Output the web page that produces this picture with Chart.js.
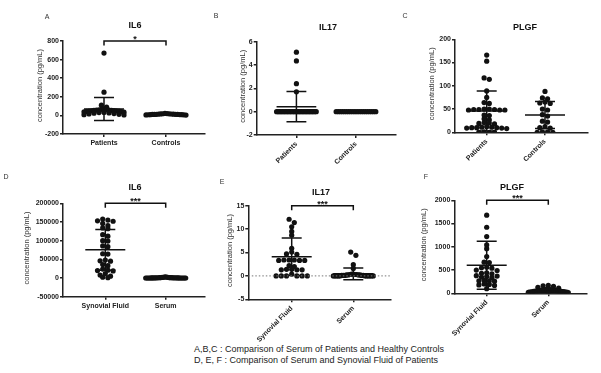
<!DOCTYPE html>
<html>
<head>
<meta charset="utf-8">
<script src="https://cdn.jsdelivr.net/npm/chart.js@4.4.1/dist/chart.umd.min.js"></script>
<style>
  html, body { margin: 0; padding: 0; background: #fff; }
  #wrap { position: relative; width: 601px; height: 373px; overflow: hidden; }
  #wrap canvas { position: absolute; }
  #note { position: absolute; left: 194px; top: 344px; font: 9px "Liberation Sans", Arial, sans-serif; line-height: 10.5px; color: #222; white-space: nowrap; }
</style>
</head>
<body>
<div id="wrap">
  <div id="note">A,B,C : Comparison of Serum of Patients and Healthy Controls<br>D, E, F : Comparison of Serum and Synovial Fluid of Patients</div>
</div>
<script>
Chart.defaults.font.family = '"Liberation Sans", Arial, sans-serif';
Chart.defaults.color = '#222';

var topGroups = ['Patients', 'Controls'];
var bottomGroups = ['Synovial Fluid', 'Serum'];

// A - IL6, serum of patients vs controls (pg/mL)
var il6Patients = [670, 250, 110, 88, 70, 65, 62, 60, 58, 56, 55, 54, 52, 50, 48, 46, 45, 43, 40, 38, 35, 32, 30, 27, 24, 20, 16, 12, 8, 5];
var il6Controls = [22, 20, 18, 17, 16, 15, 14, 13, 12, 12, 11, 10, 10, 9, 8, 8, 7, 6, 5, 4];
var il6Mean = [69, 10];
var il6Sd = [124, 6];
var il6Ticks = [-200, 0, 200, 400, 600, 800];

// B - IL17
var il17Patients = [5.1, 4.35, 2.4, 1.7, 0, 0, 0, 0, 0, 0, 0, 0, 0, 0, 0, 0, 0, 0, 0, 0, 0, 0, 0, 0, 0, 0, 0, 0, 0, 0, 0, 0];
var il17Controls = [0, 0, 0, 0, 0, 0, 0, 0, 0, 0, 0, 0, 0, 0, 0, 0, 0, 0, 0, 0];
var il17Mean = [0.43, 0];
var il17Sd = [1.29, 0];
var il17Ticks = [-2, 0, 2, 4, 6];

// C - PLGF
var plgfPatients = [166, 153, 117, 114, 89, 75, 64, 62, 50, 50, 49, 49, 49, 48, 48, 48, 37, 36, 29, 27, 21, 20, 19, 18, 12, 11, 11, 10, 10, 10, 9, 9, 8, 1, 0, 0, 0];
var plgfControls = [88, 74, 72, 65, 63, 62, 50, 48, 38, 35, 24, 22, 12, 10, 9, 1, 1, 0, 0];
var plgfMean = [46, 37];
var plgfSd = [43, 29];
var plgfTicks = [0, 50, 100, 150, 200];

// D - IL6, synovial fluid vs serum
var il6Fluid = [158000, 155000, 153000, 152000, 146000, 140000, 134000, 132000, 116000, 112000, 100000, 99000, 86000, 84000, 65000, 64000, 48000, 46000, 45000, 36000, 33000, 24000, 21000, 20000, 19000, 12000, 8000, 5000, 2000, 1000];
var il6Serum = [3000, 2500, 2000, 1800, 1500, 1300, 1200, 1000, 900, 800, 700, 600, 500, 500, 400, 400, 300, 300, 200, 200, 150, 100, 100, 80, 60, 50, 40, 30, 20, 10];
var il6FluidMean = [75500, 700];
var il6FluidSd = [54500, 800];
var il6FluidTicks = [-50000, 0, 50000, 100000, 150000, 200000];

// E - IL17
var il17Fluid = [12.1, 11.4, 10.5, 9.5, 8.7, 5.9, 5.1, 4.7, 4.6, 3.4, 3.4, 3.4, 3.3, 3.3, 3.3, 2.2, 2.0, 1.4, 1.4, 1.3, 1.3, 1.3, 0.4, 0, 0, 0, 0, 0, 0];
var il17Serum = [5.1, 4.4, 2.4, 1.6, 0.4, 0.4, 0.3, 0.3, 0.3, 0.2, 0.2, 0.2, 0.2, 0.1, 0.1, 0.1, 0.1, 0.1, 0, 0, 0, 0, 0, 0, 0, 0, 0, 0, 0];
var il17FluidMean = [4.1, 0.45];
var il17FluidSd = [4.0, 1.25];
var il17FluidTicks = [-5, 0, 5, 10, 15];

// F - PLGF
var plgfFluid = [1680, 1420, 1220, 1040, 960, 790, 670, 660, 560, 550, 540, 500, 490, 440, 430, 420, 380, 370, 360, 350, 340, 280, 270, 270, 260, 200, 190, 180, 170, 100];
var plgfSerum = [170, 160, 150, 130, 110, 90, 85, 80, 75, 70, 70, 65, 60, 60, 55, 55, 50, 50, 45, 45, 40, 40, 35, 30, 30, 25, 20, 20, 15, 10];
var plgfFluidMean = [602, 62];
var plgfFluidSd = [516, 40];
var plgfFluidTicks = [0, 500, 1000, 1500, 2000];

// page layout: box = canvas [left, top, w, h], area = plot [left, right, top, bottom], cats = x pixel of each group
var panels = [
  { letter: 'A', title: 'IL6', groups: topGroups, series: [il6Patients, il6Controls], mean: il6Mean, sd: il6Sd, ticks: il6Ticks, stars: '*',
    box: [0, 0, 215, 190], area: [63, 205, 41, 134], cats: [104, 166], rot: 0, letterAt: [47, 17], titleAt: [135, 25.5], yGap: 23 },
  { letter: 'B', title: 'IL17', groups: topGroups, series: [il17Patients, il17Controls], mean: il17Mean, sd: il17Sd, ticks: il17Ticks,
    box: [200, 0, 200, 190], area: [256.7, 397, 41.7, 135], cats: [296.7, 356.7], rot: 45, letterAt: [216, 16], titleAt: [328, 27.8], yGap: 13.5 },
  { letter: 'C', title: 'PLGF', groups: topGroups, series: [plgfPatients, plgfControls], mean: plgfMean, sd: plgfSd, ticks: plgfTicks,
    box: [390, 0, 211, 190], area: [455, 588, 39.3, 132.3], cats: [486.7, 545], rot: 45, letterAt: [405, 16], titleAt: [525, 27.8], yGap: 23.3 },
  { letter: 'D', title: 'IL6', groups: bottomGroups, series: [il6Fluid, il6Serum], mean: il6FluidMean, sd: il6FluidSd, ticks: il6FluidTicks, stars: '***',
    box: [0, 170, 215, 190], area: [63, 205, 203.3, 296.7], cats: [105.3, 165.7], rot: 0, letterAt: [6, 177], titleAt: [135, 187.8], yGap: 36 },
  { letter: 'E', title: 'IL17', groups: bottomGroups, series: [il17Fluid, il17Serum], mean: il17FluidMean, sd: il17FluidSd, ticks: il17FluidTicks, stars: '***', zeroLine: true,
    box: [200, 170, 200, 190], area: [248.3, 391, 205.7, 299.3], cats: [291.7, 353.3], rot: 45, letterAt: [222, 182], titleAt: [321, 192.7], yGap: 18 },
  { letter: 'F', title: 'PLGF', groups: bottomGroups, series: [plgfFluid, plgfSerum], mean: plgfFluidMean, sd: plgfFluidSd, ticks: plgfFluidTicks, stars: '***',
    box: [390, 170, 211, 190], area: [454.3, 586.7, 200.3, 293.3], cats: [486.7, 548.3], rot: 45, letterAt: [426, 177], titleAt: [512, 188], yGap: 30.7 }
];

var Y_AXIS_W = 40, X_AXIS_H = 50;

// prism-like scatter: points close in value share a row, rows are centred on the group,
// the larger values of a row sit in the middle
function swarm(values, center, pxX, pxY) {
  var d = 5.2, maxW = 40, near = 3.5;
  var sorted = values.slice().sort(function (a, b) { return b - a; });
  var rows = [], row = null;
  sorted.forEach(function (v) {
    if (row && (row.top - v) * pxY < near) row.vals.push(v);
    else { row = { top: v, vals: [v] }; rows.push(row); }
  });
  var pts = [];
  rows.forEach(function (r) {
    var n = r.vals.length;
    var step = n > 1 ? Math.min(d, maxW / (n - 1)) : 0;
    var slots = [];
    for (var k = 0; k < n; k++) slots.push(k - (n - 1) / 2);
    slots.sort(function (a, b) { return Math.abs(a) - Math.abs(b) || a - b; });
    r.vals.forEach(function (v, i) {
      pts.push({ x: center + slots[i] * step / pxX, y: v });
    });
  });
  return pts;
}

function errorBars(mean, sd, pxX) {
  var hw = 20 / pxX, cw = 10 / pxX, out = [];
  mean.forEach(function (m, i) {
    var c = i + 1, s = sd[i];
    out.push({ x: c - hw, y: m }, { x: c + hw, y: m }, { x: c, y: null },
      { x: c, y: m - s }, { x: c, y: m + s }, { x: c, y: null },
      { x: c - cw, y: m + s }, { x: c + cw, y: m + s }, { x: c, y: null },
      { x: c - cw, y: m - s }, { x: c + cw, y: m - s }, { x: c, y: null });
  });
  return out;
}

var decor = {
  id: 'decor',
  afterDraw: function (chart, args, o) {
    var ctx = chart.ctx, a = chart.chartArea, xs = chart.scales.x, ys = chart.scales.y;
    var bx = o.box[0], by = o.box[1];
    ctx.save();
    ctx.textAlign = 'center';
    ctx.textBaseline = 'middle';
    ctx.fillStyle = '#333';
    ctx.font = '7px "Liberation Sans", Arial, sans-serif';
    ctx.fillText(o.letter, o.letterAt[0] - bx, o.letterAt[1] - by);
    ctx.fillStyle = '#111';
    ctx.font = 'bold 9px "Liberation Sans", Arial, sans-serif';
    ctx.fillText(o.title, o.titleAt[0] - bx, o.titleAt[1] - by);

    if (o.stars) {
      var y = ys.getPixelForValue(ys.max), x1 = xs.getPixelForValue(1), x2 = xs.getPixelForValue(2);
      ctx.strokeStyle = '#111';
      ctx.lineWidth = 1.5;
      ctx.beginPath();
      ctx.moveTo(x1, y + 4.5);
      ctx.lineTo(x1, y);
      ctx.lineTo(x2, y);
      ctx.lineTo(x2, y + 4.5);
      ctx.stroke();
      ctx.textBaseline = 'alphabetic';
      ctx.fillText(o.stars, (x1 + x2) / 2, y + 1);
    }

    ctx.translate(a.left - o.yGap, (a.top + a.bottom) / 2 - 2);
    ctx.rotate(-Math.PI / 2);
    ctx.textBaseline = 'middle';
    ctx.fillStyle = '#333';
    ctx.font = '7.5px "Liberation Sans", Arial, sans-serif';
    ctx.fillText('concentration (pg/mL)', 0, 0);
    ctx.restore();
  }
};

panels.forEach(function (p) {
  var cv = document.createElement('canvas');
  cv.width = p.box[2];
  cv.height = p.box[3];
  cv.style.left = p.box[0] + 'px';
  cv.style.top = p.box[1] + 'px';
  document.getElementById('wrap').appendChild(cv);

  var pxX = p.cats[1] - p.cats[0];
  var xMin = 1 - (p.cats[0] - p.area[0]) / pxX;
  var xMax = 2 + (p.area[1] - p.cats[1]) / pxX;
  var yMin = p.ticks[0], yMax = p.ticks[p.ticks.length - 1];
  var pxY = (p.area[3] - p.area[2]) / (yMax - yMin);

  var datasets = [];
  if (p.zeroLine) {
    datasets.push({ data: [{ x: xMin, y: 0 }, { x: xMax, y: 0 }], showLine: true, borderColor: '#777',
      borderWidth: 1, borderDash: [1.5, 2], pointRadius: 0 });
  }
  p.series.forEach(function (vals, i) {
    datasets.push({ data: swarm(vals, i + 1, pxX, pxY), pointRadius: 2.6, pointBackgroundColor: '#111',
      pointBorderWidth: 0, showLine: false });
  });
  datasets.push({ data: errorBars(p.mean, p.sd, pxX), showLine: true, spanGaps: false, borderColor: '#111',
    borderWidth: 1.5, pointRadius: 0 });

  var labelFont = { size: 7, weight: 'bold' };
  new Chart(cv, {
    type: 'scatter',
    data: { datasets: datasets },
    options: {
      animation: false,
      responsive: false,
      devicePixelRatio: 1,
      layout: {
        padding: {
          left: p.area[0] - p.box[0] - Y_AXIS_W,
          right: p.box[0] + p.box[2] - p.area[1],
          top: p.area[2] - p.box[1],
          bottom: p.box[1] + p.box[3] - p.area[3] - X_AXIS_H
        }
      },
      plugins: {
        legend: { display: false },
        tooltip: { enabled: false },
        decor: { box: p.box, letter: p.letter, letterAt: p.letterAt, title: p.title, titleAt: p.titleAt, stars: p.stars, yGap: p.yGap }
      },
      scales: {
        x: {
          type: 'linear', min: xMin, max: xMax,
          afterBuildTicks: function (s) { s.ticks = [{ value: 1 }, { value: 2 }]; },
          afterFit: function (s) { s.height = X_AXIS_H; },
          ticks: { callback: function (v) { return p.groups[Math.round(v) - 1]; }, minRotation: p.rot, maxRotation: p.rot,
            autoSkip: false, font: labelFont, color: '#222', padding: 2 },
          grid: { drawOnChartArea: false, tickLength: 3, color: '#222', lineWidth: 1.5 },
          border: { color: '#222', width: 1.5 }
        },
        y: {
          min: yMin, max: yMax,
          afterBuildTicks: function (s) { s.ticks = p.ticks.map(function (v) { return { value: v }; }); },
          afterFit: function (s) { s.width = Y_AXIS_W; },
          ticks: { callback: function (v) { return String(v); }, font: labelFont, color: '#222', padding: 1 },
          grid: { drawOnChartArea: false, tickLength: 3, color: '#222', lineWidth: 1.5 },
          border: { color: '#222', width: 1.5 }
        }
      }
    },
    plugins: [decor]
  });
});
</script>
</body>
</html>
